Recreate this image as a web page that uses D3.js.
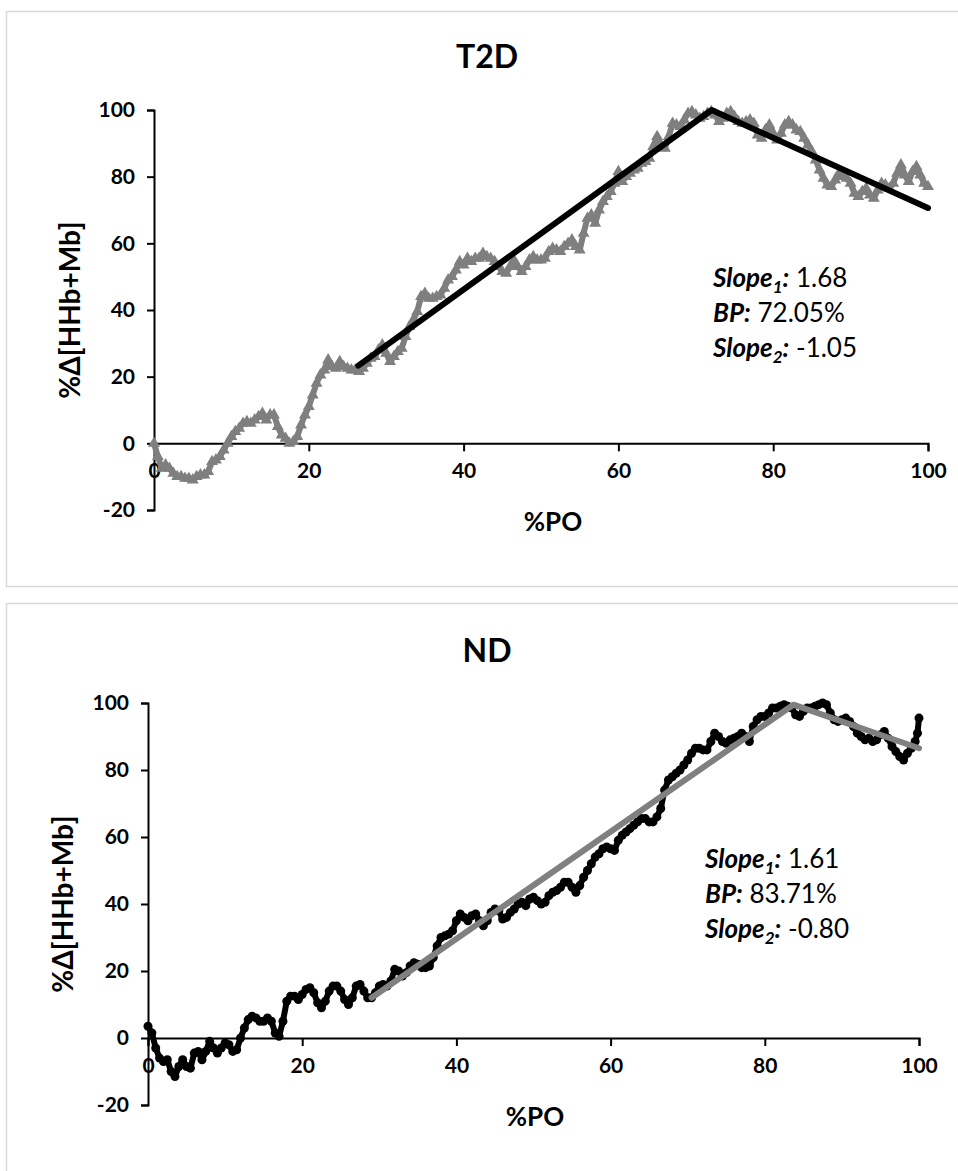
<!DOCTYPE html>
<meta charset="utf-8">
<style>
body { margin: 0; background: #fff; }
text { font-family: Lato, "Open Sans", sans-serif; fill: #000; }
</style>
<svg width="958" height="1171"></svg>
<script src="https://d3js.org/d3.v7.min.js"></script>
<script>

// %PO, %Δ[HHb+Mb]
var t2dPoints = [
  [0,0],[0.5,-4],[1,-7.5],[1.5,-6.5],[2,-7.5],[2.5,-9],[3,-10],[3.5,-10],[4,-10.5],[4.5,-10.5],
  [5,-11],[5.5,-10],[6,-9.5],[6.5,-9.5],[7,-8.5],[7.5,-5.5],[8,-5],[8.5,-4],[9,-2],[9.5,0],
  [10,2],[10.5,3.5],[11,4.5],[11.5,6],[12,6.5],[12.5,6],[13,7],[13.5,8],[14,9],[14.5,7],
  [15,8.5],[15.5,8.5],[16,5],[16.5,2.5],[17,1.5],[17.5,0],[18,0.5],[18.5,2],[19,5.5],[19.5,8.5],
  [20,11],[20.5,14.5],[21,18],[21.5,20.5],[22,22],[22.5,25],[23,23],[23.5,22.5],[24,24.5],[24.5,23],
  [25,22.5],[25.5,22],[26,22],[26.5,21.5],[27,22.5],[27.5,24],[28,25.5],[28.5,26],[29,28],[29.5,29.5],
  [30,27],[30.5,24.5],[31,26],[31.5,27.5],[32,28.5],[32.5,32],[33,35],[33.5,37],[34,39.5],[34.5,44],
  [35,45],[35.5,43.5],[36,43.5],[36.5,44],[37,44.5],[37.5,46.5],[38,49],[38.5,50],[39,52],[39.5,54.5],
  [40,53.5],[40.5,55.5],[41,54.5],[41.5,55.5],[42,55.5],[42.5,57],[43,56],[43.5,55.5],[44,54.5],[44.5,53],
  [45,51.5],[45.5,51],[46,53],[46.5,55],[47,53],[47.5,51.5],[48,53],[48.5,55],[49,56],[49.5,55],
  [50,55],[50.5,55.5],[51,57.5],[51.5,58.5],[52,58],[52.5,57.5],[53,59],[53.5,60],[54,61],[54.5,59],
  [55,58],[55.5,63],[56,67.5],[56.5,68.5],[57,66],[57.5,70],[58,72.5],[58.5,74],[59,75.5],[59.5,78],
  [60,81.5],[60.5,78.5],[61,80],[61.5,81],[62,82],[62.5,82.5],[63,84],[63.5,84.5],[64,85.5],[64.5,89],
  [65,92],[65.5,89.5],[66,88.5],[66.5,92],[67,96],[67.5,95.5],[68,95],[68.5,97],[69,99],[69.5,99.5],
  [70,98.5],[70.5,97.5],[71,98],[71.5,99],[72,99.5],[72.5,98.5],[73,96.5],[73.5,97.5],[74,99],[74.5,99.5],
  [75,98],[75.5,96.5],[76,96],[76.5,96.5],[77,97],[77.5,96],[78,92.5],[78.5,91.5],[79,94],[79.5,95.5],
  [80,93],[80.5,91],[81,93],[81.5,95.5],[82,96.5],[82.5,95.5],[83,94],[83.5,93.5],[84,91.5],[84.5,89.5],
  [85,87.5],[85.5,85],[86,82],[86.5,79.5],[87,77.5],[87.5,77],[88,79],[88.5,81],[89,80],[89.5,79.5],
  [90,78],[90.5,75],[91,74],[91.5,75.5],[92,76.5],[92.5,74.5],[93,73.5],[93.5,76],[94,78],[94.5,77.5],
  [95,76.5],[95.5,78],[96,81],[96.5,83.5],[97,80.5],[97.5,78.5],[98,81.5],[98.5,83],[99,80.5],[99.5,78],[100,77]
];

var ndPoints = [
  [0,3.5],[0.5,1.5],[1,-3],[1.5,-6],[2,-7],[2.5,-6.5],[3,-10],[3.5,-11.5],[4,-8.5],[4.5,-6.5],
  [5,-8.5],[5.5,-9],[6,-4.5],[6.5,-4],[7,-6.5],[7.5,-4],[8,-1],[8.5,-3],[9,-4.5],[9.5,-3],
  [10,-1.5],[10.5,-2],[11,-4],[11.5,-3.5],[12,0],[12.5,3],[13,5.5],[13.5,6.5],[14,6],[14.5,5],
  [15,5],[15.5,6],[16,5],[16.5,1.5],[17,0.5],[17.5,5],[18,11],[18.5,12.5],[19,12.5],[19.5,11.5],
  [20,13],[20.5,14.5],[21,15],[21.5,13.5],[22,10.5],[22.5,9],[23,11],[23.5,14],[24,15.5],[24.5,15.5],
  [25,14],[25.5,11.5],[26,10],[26.5,12],[27,15.5],[27.5,16],[28,14],[28.5,12],[29,12],[29.5,13.5],
  [30,15.5],[30.5,16],[31,15.5],[31.5,17],[32,20.5],[32.5,20],[33,18.5],[33.5,19.5],[34,21.5],[34.5,22.5],
  [35,22],[35.5,21],[36,21],[36.5,21.5],[37,24],[37.5,27.5],[38,30],[38.5,30.5],[39,31],[39.5,32],
  [40,35],[40.5,37],[41,36],[41.5,35],[42,36.5],[42.5,37],[43,35],[43.5,33.5],[44,35],[44.5,37.5],
  [45,38.5],[45.5,38],[46,35.5],[46.5,36],[47,37.5],[47.5,38.5],[48,40],[48.5,40.5],[49,39.5],[49.5,41.5],
  [50,42],[50.5,41],[51,40],[51.5,40.5],[52,42.5],[52.5,43.5],[53,44],[53.5,45],[54,46.5],[54.5,46.5],
  [55,45],[55.5,43.5],[56,45.5],[56.5,48],[57,50],[57.5,52],[58,54],[58.5,55],[59,56.5],[59.5,57],
  [60,56.5],[60.5,56],[61,59],[61.5,60.5],[62,61.5],[62.5,62.5],[63,63.5],[63.5,64.5],[64,65.5],[64.5,65.5],
  [65,64.5],[65.5,64.5],[66,66],[66.5,68.5],[67,74],[67.5,77],[68,78],[68.5,79],[69,80],[69.5,81.5],
  [70,83],[70.5,85],[71,86.5],[71.5,86.5],[72,86],[72.5,86],[73,88.5],[73.5,91],[74,90],[74.5,88.5],
  [75,88],[75.5,89],[76,89.5],[76.5,90],[77,91],[77.5,90],[78,88.5],[78.5,93],[79,95],[79.5,96],
  [80,96],[80.5,97],[81,98.5],[81.5,98.5],[82,99],[82.5,99.5],[83,99],[83.5,98.5],[84,96.5],[84.5,96],
  [85,97.5],[85.5,98.5],[86,98.5],[86.5,99],[87,99.5],[87.5,100],[88,99.5],[88.5,97],[89,95],[89.5,94.5],
  [90,95],[90.5,95.5],[91,94.5],[91.5,93],[92,91],[92.5,90],[93,89],[93.5,89.5],[94,88.5],[94.5,89],
  [95,90.5],[95.5,91.5],[96,89.5],[96.5,87],[97,85.5],[97.5,84],[98,83],[98.5,85],[99,86.5],[99.5,88.5],
  [99.8,91],[100,95.5]
];

// broken-line fits: start, breakpoint, end
var t2dFit = [[26.4,23.3],[72.05,100],[100,70.6]];
var ndFit = [[29,12],[83.71,99.5],[100,86.5]];

var xTicks = [0, 20, 40, 60, 80, 100];
var yTicks = [-20, 0, 20, 40, 60, 80, 100];

// label, subscript, value
var t2dStats = [["Slope", "1", " 1.68"], ["BP", "", " 72.05%"], ["Slope", "2", " -1.05"]];
var ndStats = [["Slope", "1", " 1.61"], ["BP", "", " 83.71%"], ["Slope", "2", " -0.80"]];

var svg = d3.select("svg");

function panel(o) {
  svg.append("rect")
      .attr("x", o.box[0] + 0.5).attr("y", o.box[1] + 0.5)
      .attr("width", o.box[2]).attr("height", o.box[3])
      .attr("fill", "#fff").attr("stroke", "#d9d9d9").attr("stroke-width", 1.5);

  var x = d3.scaleLinear().domain([0, 100]).range([o.x0, o.x1]),
      y = d3.scaleLinear().domain([-20, 100]).range([o.yb, o.yt]);

  var g = svg.append("g");
  var plain = function(d) { return String(d); };

  g.append("g")
      .attr("transform", "translate(" + o.x0 + ",0)")
      .call(d3.axisLeft(y).tickValues(yTicks).tickFormat(plain).tickSize(7).tickPadding(12));
  g.append("g")
      .attr("transform", "translate(0," + y(0) + ")")
      .call(d3.axisBottom(x).tickValues(xTicks).tickFormat(plain).tickSize(8).tickPadding(12).tickSizeOuter(8));

  g.selectAll(".domain, .tick line").attr("stroke", "#000").attr("stroke-width", 2);
  g.selectAll(".tick text")
      .attr("fill", "#000")
      .style("font-family", "Lato, sans-serif")
      .style("font-size", "21px").style("font-weight", "bold");

  // data
  var line = d3.line().x(function(d) { return x(d[0]); }).y(function(d) { return y(d[1]); });
  g.append("path").datum(o.points)
      .attr("d", line).attr("fill", "none")
      .attr("stroke", o.markColor).attr("stroke-width", 6).attr("stroke-linejoin", "round");

  if (o.marker == "triangle") {
    g.selectAll(".pt").data(o.points).enter().append("path")
        .attr("transform", function(d) { return "translate(" + x(d[0]) + "," + y(d[1]) + ")"; })
        .attr("d", d3.symbol(d3.symbolTriangle).size(62))
        .attr("fill", o.markColor);
  } else {
    g.selectAll(".pt").data(o.points).enter().append("circle")
        .attr("cx", function(d) { return x(d[0]); })
        .attr("cy", function(d) { return y(d[1]); })
        .attr("r", 4.5).attr("fill", o.markColor);
  }

  g.append("path").datum(o.fit)
      .attr("d", line).attr("fill", "none")
      .attr("stroke", o.fitColor).attr("stroke-width", 6)
      .attr("stroke-linecap", "round").attr("stroke-linejoin", "round");

  // titles
  g.append("text").attr("x", o.titleX).attr("y", o.titleY)
      .attr("text-anchor", "middle")
      .style("font-size", "32px").style("font-weight", "bold")
      .text(o.title);

  g.append("text").attr("x", o.xTitleX).attr("y", o.xTitleY)
      .attr("text-anchor", "middle")
      .style("font-size", "26px").style("font-weight", "bold")
      .text("%PO");

  g.append("text")
      .attr("transform", "translate(" + o.yTitleX + "," + ((o.yb + o.yt) / 2) + ")rotate(-90)")
      .attr("text-anchor", "middle")
      .style("font-size", "28px").style("font-weight", "bold")
      .text("%Δ[HHb+Mb]");

  // fit results
  o.stats.forEach(function(s, i) {
    var t = g.append("text")
        .attr("x", o.noteX).attr("y", o.noteY + i * 35)
        .style("font-size", "26px");
    t.append("tspan").style("font-weight", "bold").style("font-style", "italic").text(s[0]);
    if (s[1]) {
      t.append("tspan").attr("dy", 6).style("font-size", "17px")
          .style("font-weight", "bold").style("font-style", "italic").text(s[1]);
      t.append("tspan").attr("dy", -6).style("font-weight", "bold").style("font-style", "italic").text(":");
    } else {
      t.append("tspan").style("font-weight", "bold").style("font-style", "italic").text(":");
    }
    t.append("tspan").text(s[2]);
  });
}

panel({
  box: [6, 11, 960, 575],
  x0: 154, x1: 928, yb: 510, yt: 110,
  points: t2dPoints, fit: t2dFit, marker: "triangle",
  markColor: "#7f7f7f", fitColor: "#000",
  title: "T2D", titleX: 487, titleY: 68,
  xTitleX: 553, xTitleY: 531, yTitleX: 80,
  stats: t2dStats, noteX: 713, noteY: 287
});

panel({
  box: [6, 603, 960, 600],
  x0: 148, x1: 919, yb: 1105, yt: 703,
  points: ndPoints, fit: ndFit, marker: "circle",
  markColor: "#000", fitColor: "#808080",
  title: "ND", titleX: 487, titleY: 662,
  xTitleX: 535, xTitleY: 1126, yTitleX: 73,
  stats: ndStats, noteX: 705, noteY: 868
});

</script>
